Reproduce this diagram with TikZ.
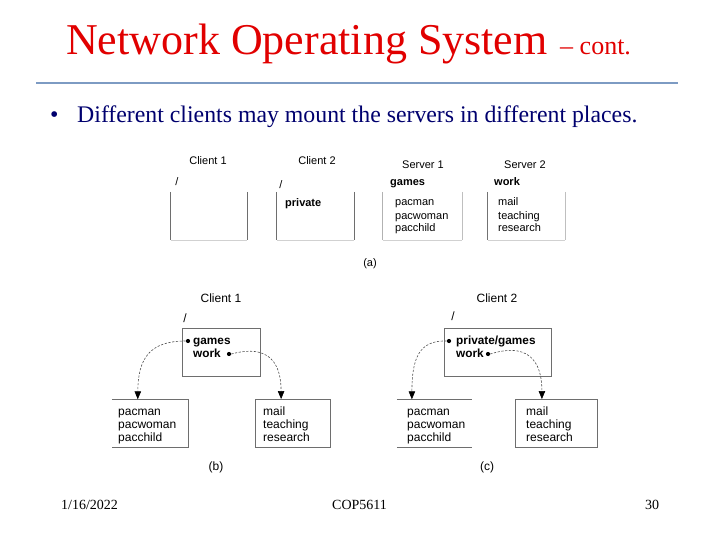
\documentclass[tikz,border=0pt]{standalone}
\usepackage{fontspec}
\setmainfont{Liberation Serif}
\setsansfont{Liberation Sans}
\usetikzlibrary{arrows.meta,calc}
\definecolor{titlered}{RGB}{225,0,0}
\definecolor{navy}{RGB}{0,0,110}
\definecolor{rulecol}{RGB}{125,155,195}
\definecolor{boxline}{RGB}{110,110,110}
\begin{document}
\begin{tikzpicture}[x=1pt,y=-1pt,
  lbl/.style={font=\sffamily\fontsize{11}{13}\selectfont, inner sep=0pt},
  bl/.style={lbl, font=\sffamily\bfseries\fontsize{11}{13}\selectfont},
  lst/.style={lbl, anchor=base west, align=left},
  lbb/.style={font=\sffamily\fontsize{12}{13}\selectfont, inner sep=0pt},
  blb/.style={lbb, font=\sffamily\bfseries\fontsize{11.8}{13}\selectfont},
  lsb/.style={lbb, anchor=base west, align=left},
  frame/.style={inner sep=0pt, minimum width=#1, minimum height=48pt},
  edge/.style={draw=boxline, line width=0.9pt},
  faint/.style={draw=black!18, line width=0.8pt},
  dotn/.style={circle, fill=black, inner sep=0pt, minimum size=4.2pt},
  mnt/.style={draw=black!70, line width=0.6pt, dash pattern=on 2.2pt off 1.6pt,
              -{Triangle[length=8pt,width=6.5pt,fill=black,color=black]}},
]
\useasboundingbox (0,0) rectangle (720,540);
% title
\node[anchor=base west, inner sep=0pt, text=titlered, font=\fontsize{44}{50}\selectfont] (title) at (66,55) {Network Operating System};
\node[anchor=base west, inner sep=0pt, text=titlered, font=\fontsize{26}{30}\selectfont] (cont) at (560,55) {-- cont.};
\draw[rulecol, line width=2pt] (36,83) -- (678,83);
\node[anchor=base west, inner sep=0pt, text=navy, font=\fontsize{24}{28}\selectfont] (bul) at (50,123) {\textbullet};
\node[anchor=base west, inner sep=0pt, text=navy, font=\fontsize{23.8}{28}\selectfont] (btext) at (77,123) {Different clients may mount the servers in different places.};
% footer
\node[anchor=base west, inner sep=0pt, font=\fontsize{14}{16}\selectfont] (date) at (61,509) {1/16/2022};
\node[anchor=base west, inner sep=0pt, font=\fontsize{14}{16}\selectfont] (course) at (332,509) {COP5611};
\node[anchor=base west, inner sep=0pt, font=\fontsize{14}{16}\selectfont] (page) at (645,509) {30};

% ---------- (a)
\node[lbl, anchor=base] (c1t) at (208,165) {Client 1};
\node[lbl, anchor=base] (c1s) at (177,186) {/};
\node[frame=76pt] (c1a) at (209,216) {};
\draw[edge] (c1a.north west) -- (c1a.south west);
\draw[edge] (c1a.north east) -- (c1a.south east);
\draw[faint] (c1a.south west) -- (c1a.south east);

\node[lbl, anchor=base] (c2t) at (317,165) {Client 2};
\node[lbl, anchor=base] (c2s) at (281,189) {/};
\node[frame=77pt] (c2a) at (315.5,216) {};
\draw[edge] (c2a.north west) -- (c2a.south west);
\draw[edge] (c2a.north east) -- (c2a.south east);
\draw[faint] (c2a.south west) -- (c2a.south east);
\node[bl, anchor=base west] (priv) at (285,207) {private};

\node[lbl, anchor=base] (s1t) at (423,169) {Server 1};
\node[bl, anchor=base west] (s1g) at (390,186) {games};
\node[frame=79pt] (s1a) at (422.5,216) {};
\draw[draw=black!30, line width=0.8pt] (s1a.north west) -- (s1a.south west);
\draw[draw=black!25, line width=0.8pt] (s1a.north east) -- (s1a.south east);
\draw[faint] (s1a.south west) -- (s1a.south east);
\node[lst] (s1l) at (395,232) {pacman\\pacwoman\\pacchild};

\node[lbl, anchor=base] (s2t) at (525,169) {Server 2};
\node[bl, anchor=base west] (s2w) at (494,186) {work};
\node[frame=77pt] (s2a) at (526.5,216) {};
\draw[draw=black!55, line width=0.9pt] (s2a.north west) -- (s2a.south west);
\draw[draw=black!25, line width=0.8pt] (s2a.north east) -- (s2a.south east);
\draw[faint] (s2a.south west) -- (s2a.south east);
\node[lst] (s2l) at (498,232) {mail\\teaching\\research};

\node[lbl, anchor=base] (capa) at (370,266) {(a)};

% ---------- (b)
\node[lbb, anchor=base] (bct) at (221,302) {Client 1};
\node[lbb, anchor=base] (bcs) at (185,322) {/};
\node[frame=78pt, draw=boxline, line width=0.9pt] (cb) at (221,352) {};
\node[blb, anchor=base west] (bg) at (193,344) {games};
\node[blb, anchor=base west] (bw) at (193,357) {work};
\node[dotn] (bgd) at (188,341) {};
\node[dotn] (bwd) at (229,354) {};

\node[frame=76pt] (lb) at (150,423.5) {};
\draw[edge] (lb.north west) -- (lb.north east) -- (lb.south east) -- (lb.south west);
\node[lsb] (lbl) at (118,441) {pacman\\pacwoman\\pacchild};
\node[frame=75pt, draw=boxline, line width=0.9pt] (rb) at (292.5,423.5) {};
\node[lsb] (rbl) at (263,441) {mail\\teaching\\research};

\coordinate (lbin) at ($(lb.north west)!0.34!(lb.north east)$);
\coordinate (rbin) at ($(rb.north west)!0.35!(rb.north east)$);
\draw[mnt] (bgd.west) .. controls (150,341) and (138,358) .. (lbin);
\draw[mnt] (bwd.east) .. controls (276,342) and (281,372) .. (rbin);

\node[lbb, anchor=base] (capb) at (216,470) {(b)};

% ---------- (c)
\node[lbb, anchor=base] (cct) at (497,302) {Client 2};
\node[lbb, anchor=base] (ccs) at (453,320) {/};
\node[frame=107pt, draw=boxline, line width=0.9pt] (cc) at (497.5,352) {};
\node[blb, anchor=base west] (cpg) at (456,344) {private/games};
\node[blb, anchor=base west] (cw) at (456,357) {work};
\node[dotn] (cpd) at (449,341) {};
\node[dotn] (cwd) at (488,354) {};

\node[frame=75pt] (lc) at (434.5,423.5) {};
\draw[edge] (lc.north west) -- (lc.north east);
\draw[edge] (lc.south west) -- (lc.south east);
\node[lsb] (lcl) at (407,441) {pacman\\pacwoman\\pacchild};
\node[frame=82pt, draw=boxline, line width=0.9pt] (rc) at (556,423.5) {};
\node[lsb] (rcl) at (526,441) {mail\\teaching\\research};

\coordinate (lcin) at ($(lc.north west)!0.2!(lc.north east)$);
\coordinate (rcin) at ($(rc.north west)!0.33!(rc.north east)$);
\draw[mnt] (cpd.west) .. controls (418,340) and (412,360) .. (lcin);
\draw[mnt] (cwd.east) .. controls (535,340) and (542,370) .. (rcin);

\node[lbb, anchor=base] (capc) at (487,470) {(c)};
\end{tikzpicture}
\end{document}
